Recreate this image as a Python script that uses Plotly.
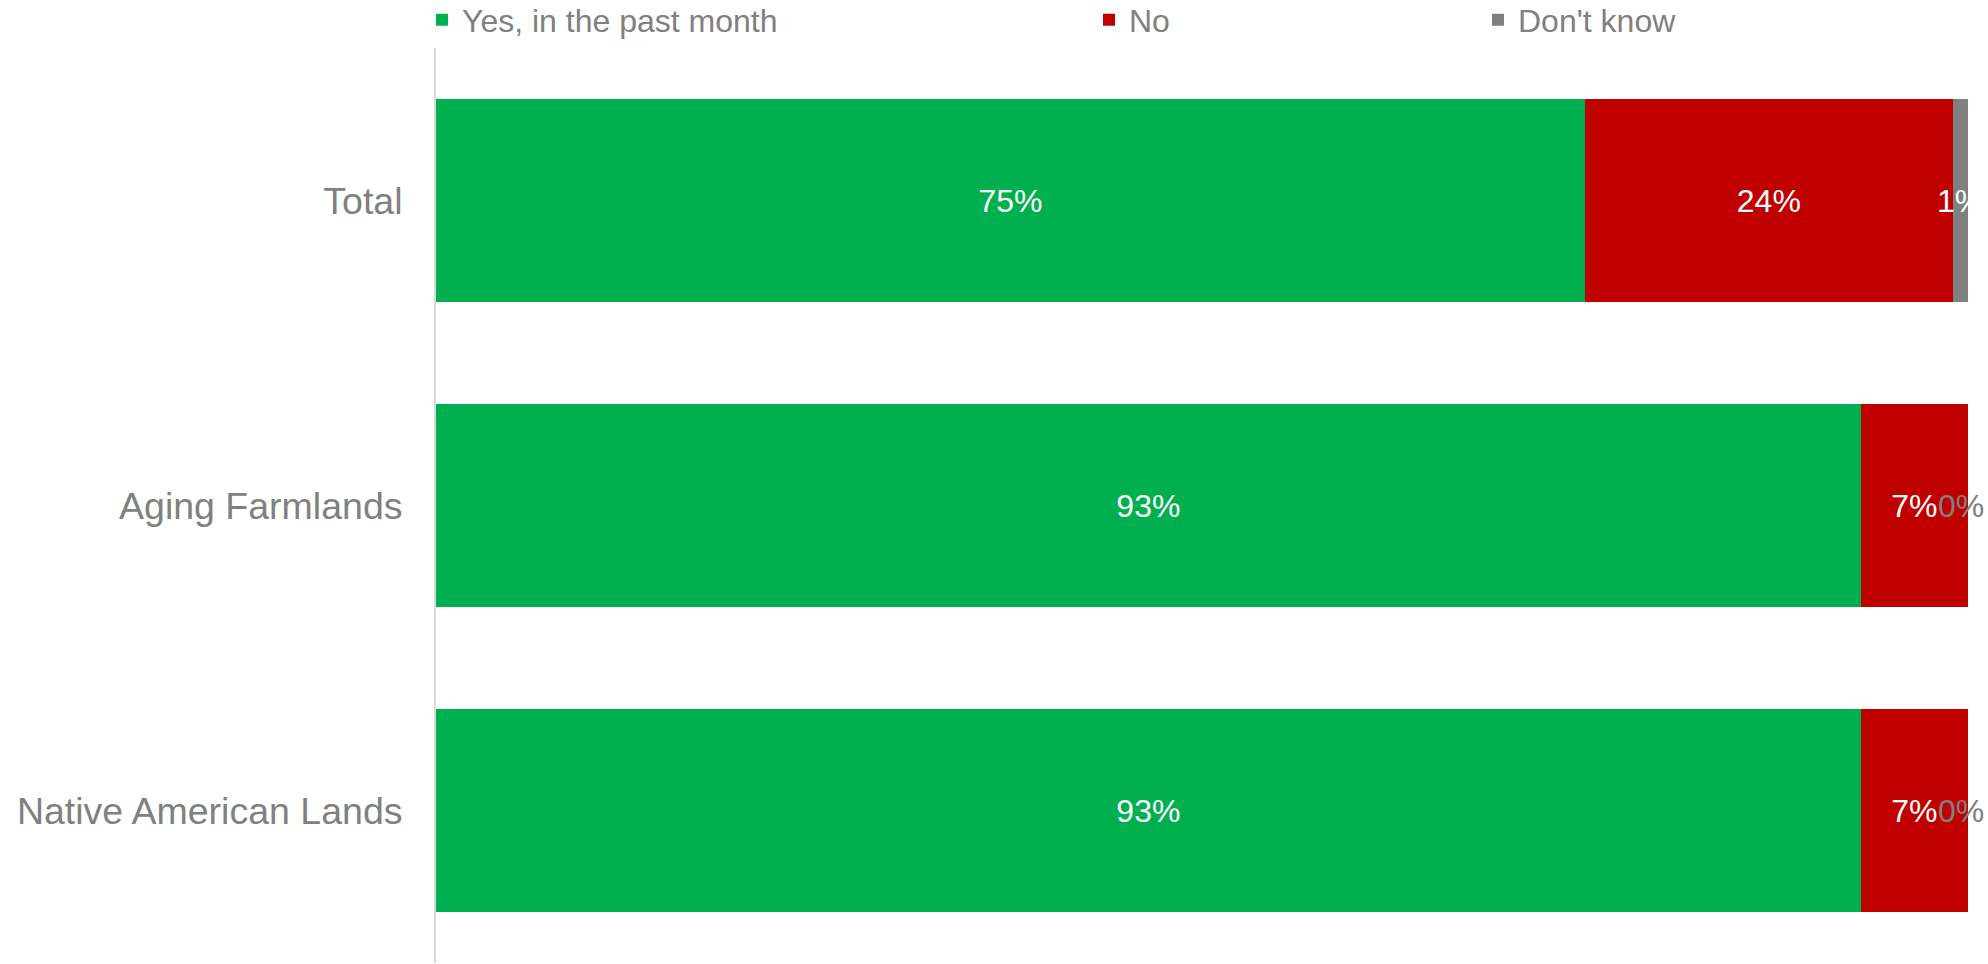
import plotly.graph_objects as go

categories = ["Total", "Aging Farmlands", "Native American Lands"]
yes_vals = [75, 93, 93]
no_vals = [24, 7, 7]
dk_vals = [1, 0, 0]
series_names = ["Yes, in the past month", "No", "Don't know"]
colors = ["#00B050", "#C00000", "#808080"]

FONT = "Liberation Sans, Arial, sans-serif"
W, H = 1988, 964
L, R, T, B = 436, 20, 48, 1

fig = go.Figure()
legend_ids = ["legend", "legend2", "legend3"]
for vals, name, col, lg in zip([yes_vals, no_vals, dk_vals], series_names, colors, legend_ids):
    show_text = lg != "legend3"
    fig.add_trace(go.Bar(
        y=categories, x=vals, orientation="h", name=name,
        marker=dict(color=col, line=dict(width=0)),
        text=[f"{v}%" for v in vals] if show_text else None,
        textposition="inside" if show_text else "none",
        insidetextanchor="middle",
        textfont=dict(color="white", size=32, family=FONT),
        legend=lg, hoverinfo="skip",
    ))

# labels for the thin "Don't know" segment
for cat, y_, n_, d_ in zip(categories, yes_vals, no_vals, dk_vals):
    fig.add_annotation(
        x=y_ + n_ + d_ / 2, y=cat, xref="x", yref="y",
        text=f"{d_}%", showarrow=False, xshift=0 if d_ > 0 else -7,
        font=dict(size=32, family=FONT, color="white" if d_ > 0 else "#808080"),
    )

leg_common = dict(orientation="h", xref="container", yref="container",
                  xanchor="left", yanchor="middle", y=1 - 20 / H,
                  font=dict(size=32, family=FONT, color="#808080"),
                  bgcolor="rgba(0,0,0,0)", borderwidth=0)
fig.update_layout(
    width=W, height=H,
    margin=dict(l=L, r=R, t=T, b=B, pad=0),
    paper_bgcolor="white", plot_bgcolor="white",
    barmode="stack", bargap=0.335,
    showlegend=True,
    legend=dict(x=422 / W, **leg_common),
    legend2=dict(x=1089 / W, **leg_common),
    legend3=dict(x=1478 / W, **leg_common),
    xaxis=dict(range=[0, 100], visible=False, fixedrange=True),
    yaxis=dict(
        categoryorder="array", categoryarray=categories, autorange="reversed",
        showline=True, linecolor="#d9d9d9", linewidth=2,
        showgrid=False, zeroline=False, fixedrange=True,
        ticks="outside", ticklen=24, tickcolor="rgba(0,0,0,0)",
        tickfont=dict(size=37.5, family=FONT, color="#808080"),
    ),
)

fig.write_html("out.html",
               config={"displayModeBar": False, "staticPlot": True},
               post_script="document.body.style.margin='0';document.body.style.overflow='hidden';")
